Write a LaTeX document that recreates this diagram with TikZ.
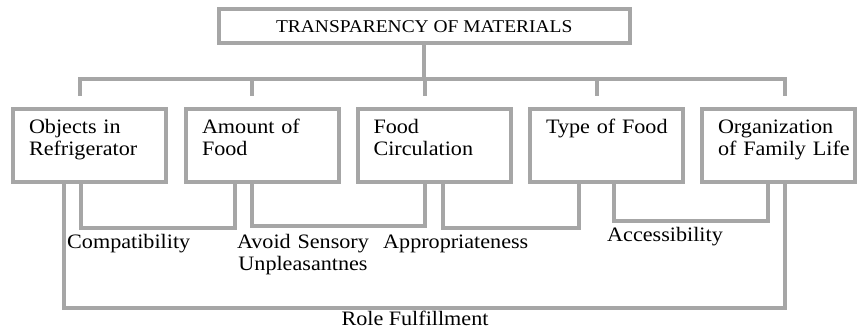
\documentclass[tikz,border=0pt]{standalone}
\usepackage{fontspec}
\setmainfont[FakeStretch=1.08]{Liberation Serif}
\usepackage{tikz}
\usepackage{xcolor}
\definecolor{lgray}{RGB}{166,166,166}

\begin{document}
\begin{tikzpicture}[x=1pt,y=-1pt,
   link/.style={draw=lgray,line width=4pt},
   catbox/.style={draw=lgray,line width=4pt,anchor=north west,minimum width=153pt,minimum height=73.5pt,
      inner xsep=16pt,inner ysep=0pt,text width=121pt,align=left,text height=25pt,text depth=48.5pt,
      font=\fontsize{20.5}{22}\selectfont},
   lbl/.style={inner sep=0pt,font=\fontsize{20.5}{22}\selectfont}]
   \useasboundingbox (0,0) rectangle (859,331);
   % top of the tree
   \node[draw=lgray,line width=4pt,minimum width=410.5pt,minimum height=33.5pt,inner sep=0pt,
      font=\fontsize{18}{20}\selectfont] (title) at (424.25,26.25) {TRANSPARENCY OF MATERIALS};
   \foreach \x [count=\i] in {80,252,425,597,784.5} {
      \coordinate (bar\i) at (\x,79.5);
      \coordinate (tip\i) at (\x,96);
   }
   \draw[link] (tip1) -- (bar1) -- (bar5) -- (tip5);
   \foreach \i in {2,3,4} \draw[link] (bar\i) -- (tip\i);
   \draw[link] (title.south) -- (title.south |- bar3);
   % the five boxes
   \node[catbox] (obj)  at (11,107)    {Objects in\\Refrigerator};
   \node[catbox] (amt)  at (184,107)   {Amount of\\Food};
   \node[catbox] (circ) at (355.5,107) {Food\\Circulation};
   \node[catbox] (type) at (528,107)   {\mbox{Type of Food}};
   \node[catbox] (org)  at (700,107)   {Organization\\\mbox{of Family Life}};
   % brackets underneath
   \draw[link] ([xshift=52.5pt]obj.south west) -- ++(0,123.5) -| ([xshift=84.5pt]org.south west);
   \draw[link] ([xshift=69.5pt]obj.south west) -- ++(0,43.5) -| ([xshift=51pt]amt.south west);
   \draw[link] ([xshift=67.7pt]amt.south west) -- ++(0,41.5) -| ([xshift=69.5pt]circ.south west);
   \draw[link] ([xshift=87pt]circ.south west) -- ++(0,43) -| ([xshift=50.5pt]type.south west);
   \draw[link] ([xshift=85.5pt]type.south west) -- ++(0,36.5) -| ([xshift=67.5pt]org.south west);
   \node[lbl,anchor=base west] (compat) at (67,248) {Compatibility};
   \node[lbl,anchor=base,text width=160pt,align=center] (avoid) at (303,248) {Avoid Sensory\\Unpleasantnes};
   \node[lbl,anchor=base west] (approp) at (383,248) {Appropriateness};
   \node[lbl,anchor=base west] (access) at (607,241) {Accessibility};
   \node[lbl,anchor=base] (role) at (415,325) {Role Fulfillment};
\end{tikzpicture}
\end{document}
